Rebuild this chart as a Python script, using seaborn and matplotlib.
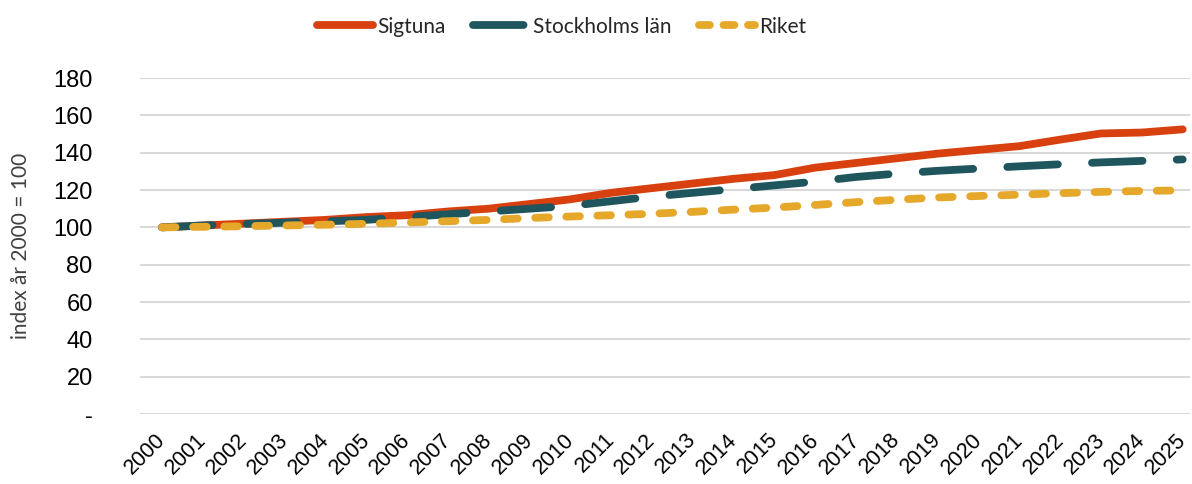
import seaborn as sns
import matplotlib.pyplot as plt
import numpy as np
from matplotlib.ticker import FuncFormatter
from matplotlib.transforms import ScaledTranslation

sns.set_theme(style="white")
plt.rcParams['font.family'] = ['Liberation Sans', 'DejaVu Sans']

years = list(range(2000, 2026))
sigtuna = [100, 101, 102, 103, 104, 105.5, 106.5, 108.5, 110, 112.5, 115, 118.5, 121,
           123.5, 126, 128, 132, 134.5, 137, 139.5, 141.5, 143.5, 147, 150.3, 150.8, 152.5]
stockholm = [100, 101, 101.8, 102.5, 103.2, 104, 105.5, 107, 108.5, 110, 111.5, 114, 116.5,
             118.5, 120.5, 122.5, 124.5, 127, 128.8, 130.3, 131.5, 132.7, 133.8, 134.8, 135.6, 136.4]
riket = [100, 100.3, 100.6, 101, 101.4, 101.9, 102.6, 103.3, 104, 105, 105.8, 106.5, 107.3,
         108.3, 109.5, 110.6, 112, 113.5, 114.8, 116, 116.8, 117.5, 118.3, 119, 119.5, 119.8]

fig = plt.figure(figsize=(11.92, 4.84), dpi=100)
ax = fig.add_axes([0.1174, 0.1446, 0.8806, 0.6942])

lw = 5.6
sns.lineplot(x=years, y=sigtuna, ax=ax, color="#D8400F", linewidth=lw,
             solid_capstyle="round", label="Sigtuna")
sns.lineplot(x=years, y=stockholm, ax=ax, color="#1F555C", linewidth=lw,
             linestyle=(0, (6.5, 4.4)), dash_capstyle="round", label="Stockholms län")
sns.lineplot(x=years, y=riket, ax=ax, color="#E6A82A", linewidth=lw,
             linestyle=(0, (1.75, 2.25)), dash_capstyle="round", label="Riket")

ax.set_ylim(0, 180)
ax.set_xlim(2000 - 0.54, 2025 + 0.17)
ax.set_yticks(np.arange(0, 181, 20))
ax.yaxis.set_major_formatter(FuncFormatter(lambda v, p: "-" if v == 0 else f"{int(v)}"))
ax.set_xticks(years)
ax.set_xticklabels([str(y) for y in years], rotation=45, ha="right",
                   rotation_mode="anchor", fontsize=15.5)
ax.tick_params(axis="y", labelsize=17, pad=34, length=0)
ax.tick_params(axis="x", pad=11, length=0)
shift = ScaledTranslation(-0.07, 0, fig.dpi_scale_trans)
for lab in ax.get_xticklabels():
    lab.set_transform(lab.get_transform() + shift)
for lab in ax.get_yticklabels() + ax.get_xticklabels():
    lab.set_color("black")

ax.grid(axis="y", color="#D9D9D9", linewidth=1.5)
ax.set_axisbelow(True)
for s in ax.spines.values():
    s.set_visible(False)
for ln in ax.get_lines():
    ln.set_clip_on(False)

ax.set_xlabel("")
ax.set_ylabel("index år 2000 = 100", fontsize=15, color="#404040",
              family=["Lato", "DejaVu Sans"])
ax.yaxis.set_label_coords(-0.104, 0.5)

leg = ax.legend(loc="center", bbox_to_anchor=(0.471, 0.945), bbox_transform=fig.transFigure,
                ncol=3, frameon=False, handlelength=2.7, handletextpad=0.2, columnspacing=1.3,
                prop={"family": ["Lato", "DejaVu Sans"], "size": 15})
for t in leg.get_texts():
    t.set_color("#262626")
# shorter dash in the legend so the Riket handle ends with a dot like the original
leg.get_lines()[2].set_linestyle((0, (1.4, 1.75)))

fig.savefig("out.png", dpi=100)
